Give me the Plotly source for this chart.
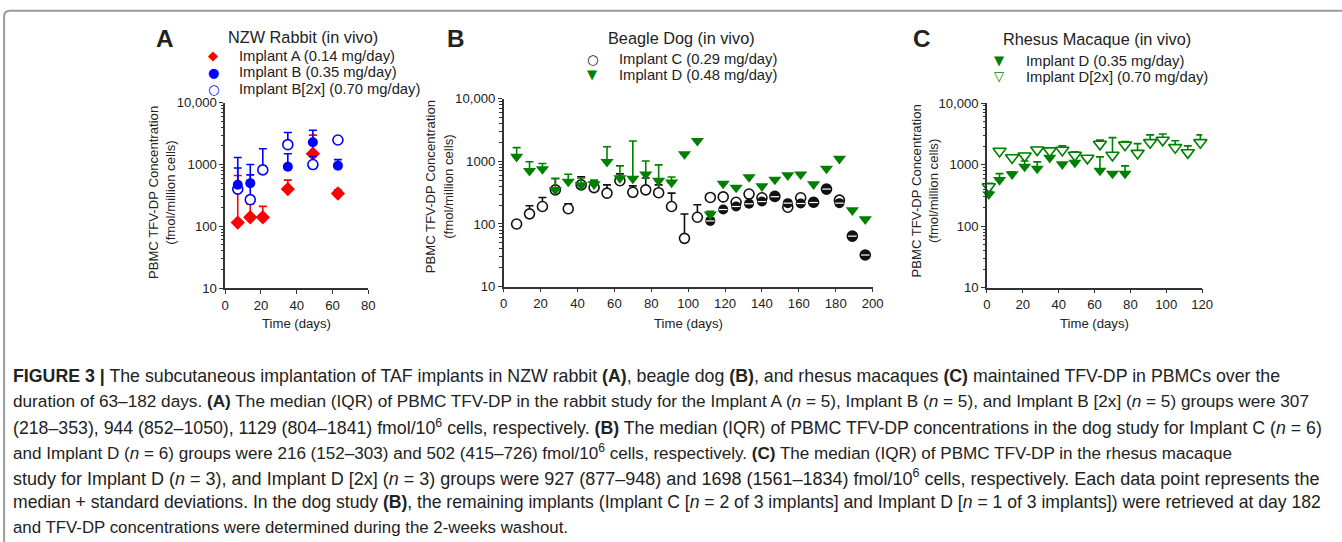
import plotly.graph_objects as go

# ---------------- data ----------------
# Panel A: NZW rabbit
days_a = [7, 14, 21, 35, 49, 63]
implant_a = [115, 140, 140, 400, 1500, 340]
implant_a_sd = [550, 90, 70, 160, 1500, 50]

days_b_rab = [7, 14, 35, 49, 63]
implant_b = [470, 500, 920, 2300, 960]
implant_b_sd = [830, 500, 580, 1300, 240]

days_b2x = [7, 14, 21, 35, 49, 63]
implant_b2x = [400, 270, 820, 2100, 1000, 2500]
implant_b2x_sd = [480, 410, 980, 1200, 350, 0]

# Panel B: beagle dog
days_dog = [7, 14, 21, 28, 35, 42, 49, 56, 63, 70, 77, 84, 91, 98, 105, 112,
            119, 126, 133, 140, 147, 154, 161, 168, 175, 182, 189, 196]
implant_c = [100, 145, 190, 350, 175, 420, 380, 310, 490, 320, 350, 315, 190, 59,
             128, 265, 270, 222, 300, 262, 275, 185, 262, 222, 360, 240, 64, 32]
implant_c_sd = [0, 50, 75, 180, 35, 145, 105, 110, 140, 85, 190, 105, 120, 85,
                75, 0, 0, 0, 0, 0, 0, 0, 0, 0, 0, 0, 0, 0]
days_dog_late = [112, 119, 126, 133, 140, 147, 154, 161, 168, 175, 182, 189, 196]
implant_c_late = [112, 170, 190, 210, 228, 272, 215, 212, 220, 360, 215, 64, 32]
implant_d_dog = [1180, 705, 750, 350, 475, 415, 430, 980, 540, 530, 620, 490, 460,
                 1300, 2120, 142, 440, 380, 560, 400, 510, 600, 620, 430, 765,
                 1100, 166, 119]
implant_d_dog_sd = [470, 275, 170, 180, 145, 125, 70, 720, 305, 1570, 390, 385,
                    100, 0, 0, 18, 0, 0, 0, 0, 0, 0, 0, 0, 0, 0, 0, 0]

# Panel C: rhesus macaque
days_mac_d = [1, 7, 14, 21, 28, 35, 42, 49, 56, 63, 70, 77]
implant_d_mac = [330, 565, 700, 930, 865, 1300, 1020, 1080, 1230, 800, 716, 716]
implant_d_mac_sd = [40, 150, 60, 220, 245, 0, 0, 0, 0, 540, 0, 240]
days_mac_d2x = [1, 7, 14, 21, 28, 35, 42, 49, 56, 63, 70, 77, 84, 91, 98, 105,
                112, 119]
implant_d2x_mac = [440, 1660, 1300, 1390, 1740, 1680, 1720, 1425, 1280, 2160,
                   1425, 2090, 1535, 2290, 2510, 1900, 1570, 2290]
implant_d2x_mac_sd = [60, 0, 0, 120, 160, 180, 300, 195, 0, 340, 1325, 280, 665,
                      760, 640, 540, 450, 760]

y_tickvals = [10, 100, 1000, 10000]
y_ticktext = ["10", "100", "1000", "10,000"]

caption_lines = [
    "<b>FIGURE 3 |</b> The subcutaneous implantation of TAF implants in NZW rabbit <b>(A)</b>, beagle dog <b>(B)</b>, and rhesus macaques <b>(C)</b> maintained TFV-DP in PBMCs over the",
    "duration of 63–182 days. <b>(A)</b> The median (IQR) of PBMC TFV-DP in the rabbit study for the Implant A (<i>n</i> = 5), Implant B (<i>n</i> = 5), and Implant B [2x] (<i>n</i> = 5) groups were 307",
    "(218–353), 944 (852–1050), 1129 (804–1841) fmol/10<sup>6</sup> cells, respectively. <b>(B)</b> The median (IQR) of PBMC TFV-DP concentrations in the dog study for Implant C (<i>n</i> = 6)",
    "and Implant D (<i>n</i> = 6) groups were 216 (152–303) and 502 (415–726) fmol/10<sup>6</sup> cells, respectively. <b>(C)</b> The median (IQR) of PBMC TFV-DP in the rhesus macaque",
    "study for Implant D (<i>n</i> = 3), and Implant D [2x] (<i>n</i> = 3) groups were 927 (877–948) and 1698 (1561–1834) fmol/10<sup>6</sup> cells, respectively. Each data point represents the",
    "median + standard deviations. In the dog study <b>(B)</b>, the remaining implants (Implant C [<i>n</i> = 2 of 3 implants] and Implant D [<i>n</i> = 1 of 3 implants]) were retrieved at day 182",
    "and TFV-DP concentrations were determined during the 2-weeks washout.",
]
# per-line font sizes so each line spans the width it has in the figure
caption_sizes = [17.55, 16.99, 17.52, 16.89, 17.8, 17.39, 16.65]

# ---------------- style ----------------
W, H = 1342, 542
MARG = 8  # page margin that ends up around the figure in the photo
KX, KY = (W + 2 * MARG) / W, (H + 2 * MARG) / H
DX, DY = 3, 1.5
FS = 1.012  # font compensation for the photo's scaling
FONT = "Liberation Sans, Arial, sans-serif"
TXT = "#222222"
AX = "#333333"
RED, BLUE, GREEN, BLACK = "#ff0000", "#0000ff", "#008000", "#111111"


def fx(px):
    return ((px + DX) * KX - MARG) / W


def fy(py):
    return 1 - ((py + DY) * KY - MARG) / H


def err(sd, color):
    return dict(type="data", symmetric=False, array=sd, arrayminus=[0] * len(sd),
                color=color, thickness=1.6, width=4)


fig = go.Figure()

# Panel A
fig.add_trace(go.Scatter(x=days_a, y=implant_a, mode="markers", xaxis="x", yaxis="y",
                         marker=dict(symbol="diamond", size=11, color=RED),
                         error_y=err(implant_a_sd, RED), cliponaxis=False))
fig.add_trace(go.Scatter(x=days_b2x, y=implant_b2x, mode="markers", xaxis="x", yaxis="y",
                         marker=dict(symbol="circle", size=10, color="white",
                                     line=dict(color=BLUE, width=1.6)),
                         error_y=err(implant_b2x_sd, BLUE), cliponaxis=False))
fig.add_trace(go.Scatter(x=days_b_rab, y=implant_b, mode="markers", xaxis="x", yaxis="y",
                         marker=dict(symbol="circle", size=10, color=BLUE),
                         error_y=err(implant_b_sd, BLUE), cliponaxis=False))

# Panel B
fig.add_trace(go.Scatter(x=days_dog, y=implant_c, mode="markers", xaxis="x2", yaxis="y2",
                         marker=dict(symbol="circle", size=10, color="white",
                                     line=dict(color=BLACK, width=1.6)),
                         error_y=err(implant_c_sd, BLACK), cliponaxis=False))
fig.add_trace(go.Scatter(x=days_dog_late, y=implant_c_late, mode="markers", xaxis="x2", yaxis="y2",
                         marker=dict(symbol="circle", size=10, color=BLACK),
                         cliponaxis=False))
fig.add_trace(go.Scatter(x=days_dog_late, y=implant_c_late, mode="markers", xaxis="x2", yaxis="y2",
                         marker=dict(symbol="line-ew", size=6,
                                     line=dict(color="white", width=1.2)),
                         cliponaxis=False))
fig.add_trace(go.Scatter(x=days_dog, y=implant_d_dog, mode="markers", xaxis="x2", yaxis="y2",
                         marker=dict(symbol="triangle-down", size=11.5, color=GREEN),
                         error_y=err(implant_d_dog_sd, GREEN), cliponaxis=False))

# Panel C
fig.add_trace(go.Scatter(x=days_mac_d, y=implant_d_mac, mode="markers", xaxis="x3", yaxis="y3",
                         marker=dict(symbol="triangle-down", size=11.5, color=GREEN),
                         error_y=err(implant_d_mac_sd, GREEN), cliponaxis=False))
fig.add_trace(go.Scatter(x=days_mac_d2x, y=implant_d2x_mac, mode="markers", xaxis="x3", yaxis="y3",
                         marker=dict(symbol="triangle-down", size=11.5, color="white",
                                     line=dict(color=GREEN, width=1.6)),
                         error_y=err(implant_d2x_mac_sd, GREEN), cliponaxis=False))

minor_vals = [k * 10 ** d for d in range(1, 4) for k in range(2, 10)]
TICKF = dict(family=FONT, size=13 * FS, color=TXT)


def xax(dom, xmax, anchor):
    return dict(domain=dom, range=[0, xmax], anchor=anchor, showline=True, linecolor=AX,
                linewidth=1.5, ticks="outside", ticklen=4, tickwidth=1.2, tickcolor=AX,
                tick0=0, dtick=20, showgrid=False, zeroline=False, tickfont=TICKF)


def yax(dom, anchor):
    return dict(domain=dom, type="log", range=[1, 4], anchor=anchor, showline=True,
                linecolor=AX, linewidth=1.5, ticks="outside", ticklen=4, tickwidth=1.2,
                tickcolor=AX, tickmode="array", tickvals=y_tickvals, ticktext=y_ticktext,
                showgrid=False, zeroline=False,
                minor=dict(ticks="outside", ticklen=2.5, tickwidth=1, tickcolor=AX,
                           tickmode="array", tickvals=minor_vals, showgrid=False),
                tickfont=TICKF)


# target pixel frames of the three plot areas
A_x, A_y = (226, 369), (102, 287)
B_x, B_y = (504.3, 873), (97.7, 285.7)
C_x, C_y = (987.3, 1202.3), (102.3, 286.7)

fig.update_layout(
    width=W, height=H, margin=dict(l=0, r=0, t=0, b=0),
    paper_bgcolor="white", plot_bgcolor="white", showlegend=False,
    xaxis=xax([fx(A_x[0]), fx(A_x[1])], 80, "y"),
    yaxis=yax([fy(A_y[1]), fy(A_y[0])], "x"),
    xaxis2=xax([fx(B_x[0]), fx(B_x[1])], 200, "y2"),
    yaxis2=yax([fy(B_y[1]), fy(B_y[0])], "x2"),
    xaxis3=xax([fx(C_x[0]), fx(C_x[1])], 120, "y3"),
    yaxis3=yax([fy(C_y[1]), fy(C_y[0])], "x3"),
)

ann = []


def text(x, y, s, size=13, anchor="center", angle=0, color=TXT, family=FONT):
    ann.append(dict(x=fx(x), y=fy(y), xref="paper", yref="paper", text=s,
                    showarrow=False, xanchor=anchor, yanchor="middle", textangle=angle,
                    font=dict(family=family, size=size * FS, color=color)))


# panel letters and titles
text(166, 38, "<b>A</b>", size=24)
text(457, 38, "<b>B</b>", size=24)
text(922, 38, "<b>C</b>", size=24)
text(304, 36, "NZW Rabbit (in vivo)", size=16.1)
text(682, 37, "Beagle Dog (in vivo)", size=16.1)
text(1097, 38, "Rhesus Macaque (in vivo)", size=16.1)

# legends
GL = "DejaVu Sans, sans-serif"
leg_a = [("◆", RED, "Implant A (0.14 mg/day)", 55),
         ("●", BLUE, "Implant B (0.35 mg/day)", 71.7),
         ("○", BLUE, "Implant B[2x] (0.70 mg/day)", 88.3)]
for g, c, t, yy in leg_a:
    text(214, yy, g, size=13, color=c, family=GL)
    text(237.7, yy, t, size=14.6, anchor="left")
leg_b = [("○", BLACK, "Implant C (0.29 mg/day)", 58.3),
         ("▼", GREEN, "Implant D (0.48 mg/day)", 74)]
for g, c, t, yy in leg_b:
    text(592.7, yy, g, size=13, color=c, family=GL)
    text(617.7, yy, t, size=14.6, anchor="left")
leg_c = [("▼", GREEN, "Implant D (0.35 mg/day)", 60),
         ("▽", GREEN, "Implant D[2x] (0.70 mg/day)", 76)]
for g, c, t, yy in leg_c:
    text(1000, yy, g, size=13, color=c, family=GL)
    text(1024, yy, t, size=14.6, anchor="left")

# axis titles
ytitle = "PBMC TFV-DP Concentration<br>(fmol/million cells)"
text(163, 192, ytitle, size=13, angle=-90)
text(440, 186, ytitle, size=13, angle=-90)
text(925, 190, ytitle, size=13, angle=-90)
for cx in (297.5, 688.5, 1095):
    text(cx, 322, "Time (days)", size=13)

# caption
for i, (line, sz) in enumerate(zip(caption_lines, caption_sizes)):
    text(12, 375 + 25.2 * i, line, size=sz, anchor="left")

fig.update_layout(annotations=ann)

# figure frame (top and left border)
fig.add_shape(type="path", xref="paper", yref="paper",
              path=f"M {fx(5)},{fy(560)} L {fx(5)},{fy(16)} Q {fx(5)},{fy(10)} {fx(11)},{fy(10)} L {fx(1360)},{fy(10)}",
              line=dict(color="#9a9a9a", width=2))

fig.write_html("out.html", config={"displayModeBar": False},
               post_script="document.body.style.margin='0';")
